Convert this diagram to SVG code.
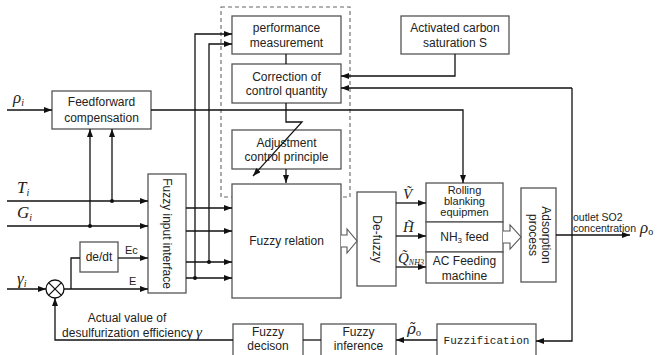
<svg xmlns="http://www.w3.org/2000/svg" width="668" height="355" viewBox="0 0 668 355">
<defs>
<marker id="ah" viewBox="0 0 8 6" refX="8" refY="3" markerWidth="8" markerHeight="6" markerUnits="userSpaceOnUse" orient="auto">
<path d="M0,0 L8,3 L0,6 z" fill="#111"/>
</marker>
</defs>
<style>
.box{fill:#fff;stroke:#555;stroke-width:1.3}
.ln{fill:none;stroke:#111;stroke-width:1.3}
.ar{fill:none;stroke:#111;stroke-width:1.3;marker-end:url(#ah)}
.t{font-family:"Liberation Sans",Arial,sans-serif;font-size:12px;fill:#222;text-anchor:middle}
.r{font-family:"Liberation Sans",Arial,sans-serif;font-size:11px;fill:#222;text-anchor:middle}
.s{font-family:"Liberation Sans",Arial,sans-serif;font-size:11px;fill:#222}
.o{font-family:"Liberation Sans",Arial,sans-serif;font-size:10.5px;fill:#222}
.m{font-family:"Liberation Mono","DejaVu Sans Mono",monospace;font-size:11px;fill:#222;text-anchor:middle}
.v{font-family:"Liberation Serif","Times New Roman",serif;font-style:italic;font-size:17px;fill:#222}
.vs{font-family:"Liberation Serif","Times New Roman",serif;font-style:italic;font-size:15px;fill:#222}
.dv{font-family:"DejaVu Serif",serif;font-style:italic;font-size:15px;fill:#222}
.dot{fill:#111}
</style>
<rect x="221" y="7" width="129" height="190" fill="none" stroke="#666" stroke-width="1.1" stroke-dasharray="4,3"/>
<g id="sum">
<circle cx="55" cy="289" r="9" fill="#fff" stroke="#111" stroke-width="1.3"/>
<path class="ln" d="M48.6,282.6 L61.4,295.4 M61.4,282.6 L48.6,295.4"/>
</g>
<g id="feedforward">
<rect class="box" x="52" y="91" width="99" height="38"/>
<text class="t" x="101.5" y="106">Feedforward</text>
<text class="t" x="101.5" y="122">compensation</text>
</g>
<g id="perf">
<rect class="box" x="232" y="16" width="109" height="38"/>
<text class="t" x="286.5" y="32">performance</text>
<text class="t" x="286.5" y="47">measurement</text>
</g>
<g id="correction">
<rect class="box" x="232" y="64" width="109" height="39"/>
<text class="t" x="286.5" y="80.5">Correction of</text>
<text class="t" x="286.5" y="95">control quantity</text>
</g>
<g id="adjust">
<rect class="box" x="232" y="130" width="109" height="39"/>
<text class="t" x="286.5" y="146.5">Adjustment</text>
<text class="t" x="286.5" y="161">control principle</text>
</g>
<g id="activated">
<rect class="box" x="401" y="16" width="108" height="38"/>
<text class="t" x="455" y="32">Activated carbon</text>
<text class="t" x="455" y="47">saturation S</text>
</g>
<g id="fuzzyinput">
<rect class="box" x="148" y="174" width="38" height="119"/>
<text class="t" transform="translate(167,233.5) rotate(90)" x="0" y="4">Fuzzy input interface</text>
</g>
<g id="dedt">
<rect class="box" x="80" y="242" width="38" height="30"/>
<text class="t" x="99" y="261">de/dt</text>
</g>
<g id="fuzzyrelation">
<rect class="box" x="232" y="184" width="109" height="114"/>
<text class="t" x="286.5" y="245">Fuzzy relation</text>
</g>
<g id="defuzzy">
<rect class="box" x="357" y="192" width="39" height="94"/>
<text class="t" transform="translate(376.5,239) rotate(90)" x="0" y="4">De-fuzzy</text>
</g>
<g id="actuators">
<rect class="box" x="426" y="183" width="77" height="39"/>
<rect class="box" x="426" y="222" width="77" height="30"/>
<rect class="box" x="426" y="252" width="77" height="31"/>
<text class="r" x="464.5" y="194">Rolling</text>
<text class="r" x="464.5" y="205">blanking</text>
<text class="r" x="464.5" y="216">equipmen</text>
<text class="t" x="464.5" y="241">NH<tspan font-size="8" dy="2">3</tspan><tspan dy="-2"> feed</tspan></text>
<text class="t" x="464.5" y="265">AC Feeding</text>
<text class="t" x="464.5" y="280">machine</text>
</g>
<g id="adsorption">
<rect class="box" x="521" y="188" width="35" height="94"/>
<text class="t" transform="translate(538.5,235) rotate(90)"><tspan x="0" y="-3">Adsorption</tspan><tspan x="0" y="10">process</tspan></text>
</g>
<g id="fuzzydecison">
<rect class="box" x="233" y="324" width="70" height="36"/>
<text class="t" x="268" y="336">Fuzzy</text>
<text class="t" x="268" y="350">decison</text>
</g>
<g id="fuzzyinference">
<rect class="box" x="321" y="324" width="75" height="36"/>
<text class="t" x="358.5" y="336">Fuzzy</text>
<text class="t" x="358.5" y="350">inference</text>
</g>
<g id="fuzzification">
<rect class="box" x="437" y="324" width="99" height="36"/>
<text class="m" x="486.5" y="344">Fuzzification</text>
</g>
<g id="connectors">
<path class="ar" d="M7,110 H52"/>
<path class="ar" d="M151,110 H463 V183"/>
<path class="ar" d="M7,201 H148"/>
<path class="ar" d="M7,226 H148"/>
<path class="ar" d="M112,201 V129"/>
<path class="ar" d="M90,226 V129"/>
<path class="ar" d="M7,289 H46"/>
<path class="ar" d="M64,289 H148"/>
<path class="ln" d="M71,289 V258 H80"/>
<path class="ar" d="M118,258 H148"/>
<path class="ar" d="M233,340 H55 V298"/>
<path class="ar" d="M186,208 H232"/>
<path class="ar" d="M186,231 H232"/>
<path class="ar" d="M186,262 H232"/>
<path class="ar" d="M186,278 H232"/>
<path class="ar" d="M209,262 V44 H232"/>
<path class="ar" d="M195,278 V34 H232"/>
<path class="ln" d="M286,54 V64"/>
<path class="ar" d="M286,103 V122 H302 L253,176"/>
<path class="ar" d="M286,169 V183"/>
<path class="ar" d="M455,54 V76 H341"/>
<path class="ar" d="M572,88 H341"/>
<path class="ar" d="M572,88 V341 H536"/>
<path class="ar" d="M396,203 H426"/>
<path class="ar" d="M396,236 H426"/>
<path class="ar" d="M396,267 H426"/>
<path class="ar" d="M556,235 H630"/>
<path class="ar" d="M437,340 H396"/>
<path class="ln" d="M321,340 H303"/>
<path d="M341,235 H347 V229 L357,241 L347,253 V247 H341" fill="#fff" stroke="#555" stroke-width="1.1"/>
<path d="M503,231 H510 V225 L521,237 L510,249 V243 H503" fill="#fff" stroke="#555" stroke-width="1.1"/>
<circle class="dot" cx="112" cy="201" r="2"/>
<circle class="dot" cx="90" cy="226" r="2"/>
<circle class="dot" cx="209" cy="262" r="2"/>
<circle class="dot" cx="195" cy="278" r="2"/>
</g>
<g id="labels">
<text class="v" x="13" y="103">ρ<tspan font-size="10" dy="3">i</tspan></text>
<text class="v" x="17" y="193">T<tspan font-size="10" dy="3">i</tspan></text>
<text class="v" x="17" y="218">G<tspan font-size="10" dy="3">i</tspan></text>
<text class="v" x="17" y="284">γ<tspan font-size="10" dy="3">i</tspan></text>
<text class="s" x="125" y="254">Ec</text>
<text class="s" x="129" y="285">E</text>
<text class="t" x="127" y="322">Actual value of</text>
<text class="t" x="132" y="337">desulfurization efficiency <tspan class="vs" font-size="16">γ</tspan></text>
<text class="vs" x="403" y="199">V&#771;</text>
<text class="vs" x="403" y="232">H&#771;</text>
<text class="vs" x="398" y="263">Q&#771;<tspan font-size="8" dy="2">NH3</tspan></text>
<text class="o" x="573" y="221">outlet SO2</text>
<text class="o" x="573" y="232">concentration</text>
<text class="v" x="640" y="233">ρ<tspan font-size="10" dy="2" font-style="normal">o</tspan></text>
<text class="dv" x="407" y="334">ρ&#771;<tspan font-size="9" dy="2" font-style="normal">o</tspan></text>
</g>
</svg>
